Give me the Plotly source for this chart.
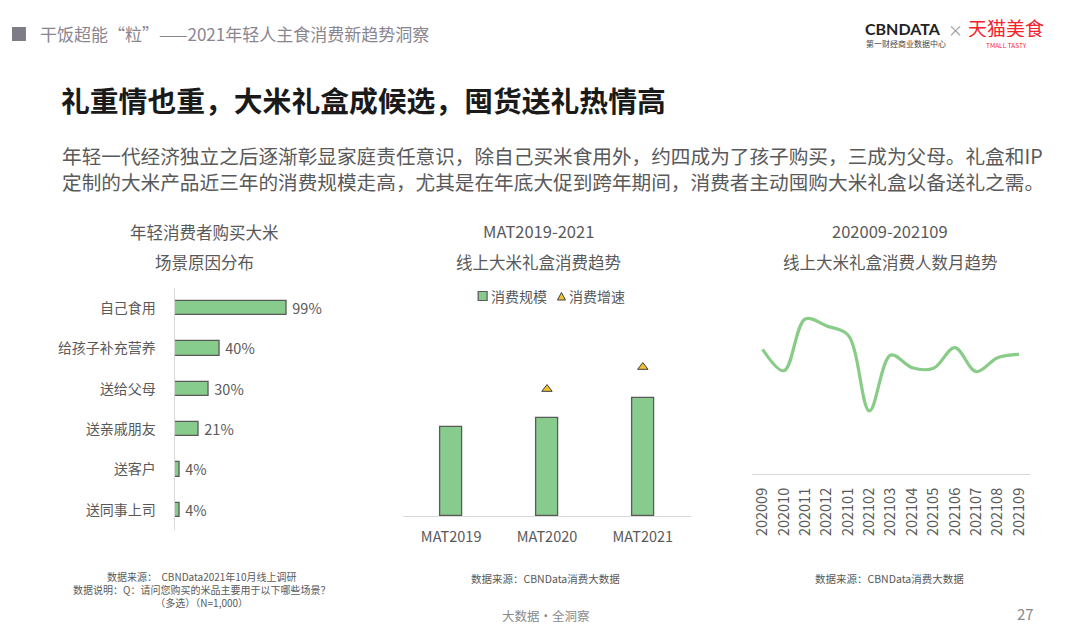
import plotly.graph_objects as go

W, H = 1080, 635


def px(x):
    return x / W


def py(y):
    return 1 - y / H


FONT = "Noto Sans CJK SC, Noto Sans, sans-serif"
GRAY = "#595959"
GREEN = "#87CB8D"
OUTLINE = "#5a5a5a"

# ---------------- data ----------------
scene_labels = ["自己食用", "给孩子补充营养", "送给父母", "送亲戚朋友", "送客户", "送同事上司"]
scene_values = [99, 40, 30, 21, 4, 4]

mat_labels = ["MAT2019", "MAT2020", "MAT2021"]
mat_scale = [100, 110, 133]          # relative consumption scale (index)
mat_growth = [None, 10.1, 20.4]      # growth rate (%)
mat_series = ["消费规模", "消费增速"]

month_labels = ["202009", "202010", "202011", "202012", "202101", "202102", "202103",
                "202104", "202105", "202106", "202107", "202108", "202109"]
month_users = [124.7, 103.3, 155.0, 148.0, 139.0, 63.0, 119.0,
               106.3, 105.7, 126.3, 102.3, 116.3, 119.7]

fig = go.Figure()

# left: horizontal bars
fig.add_trace(go.Bar(
    x=scene_values, y=scene_labels, orientation="h",
    xaxis="x", yaxis="y",
    marker=dict(color=GREEN, line=dict(color=OUTLINE, width=1.3)),
    width=0.35,
    text=[f" {v}%" for v in scene_values], textposition="outside",
    constraintext="none",
    textfont=dict(family=FONT, size=14.5, color=GRAY),
    cliponaxis=False, showlegend=False, hoverinfo="skip",
))

# middle: bars + growth markers
fig.add_trace(go.Bar(
    x=mat_labels, y=mat_scale, name=mat_series[0],
    xaxis="x2", yaxis="y2", width=0.23,
    marker=dict(color=GREEN, line=dict(color=OUTLINE, width=1.3)),
    showlegend=False, hoverinfo="skip",
))
fig.add_trace(go.Scatter(
    x=mat_labels, y=mat_growth, name=mat_series[1], mode="markers",
    xaxis="x2", yaxis="y3",
    marker=dict(symbol="triangle-up", size=9, color="#F2C12E",
                line=dict(color="#3f3f3f", width=1)),
    showlegend=False, hoverinfo="skip", cliponaxis=False,
))

# right: smooth line
fig.add_trace(go.Scatter(
    x=month_labels, y=month_users, mode="lines",
    xaxis="x3", yaxis="y4",
    line=dict(color="#88CC88", width=3.2, shape="spline", smoothing=1.0),
    showlegend=False, hoverinfo="skip", cliponaxis=False,
))

annotations = []


def txt(x, y, s, size, color=GRAY, xanchor="center", bold=False, family=FONT,
        height=None, align="center"):
    if bold:
        s = f"<b>{s}</b>"
    a = dict(
        x=px(x), y=py(y), xref="paper", yref="paper", text=s, showarrow=False,
        xanchor=xanchor, yanchor="middle", align=align,
        font=dict(family=family, size=size, color=color),
    )
    if height is not None:
        a["height"] = height
        a["borderpad"] = 0
    annotations.append(a)


# header
txt(36, 34, "干饭超能“粒”——2021年轻人主食消费新趋势洞察", 17, color="#8a8690", xanchor="left")
txt(864, 28, "CBNDATA", 16, color="#222222", xanchor="left", bold=True,
    family="Lato, Noto Sans, sans-serif", height=16)
txt(955, 29, "×", 15, color="#999999", height=16)
txt(967, 27, "天猫美食", 19, color="#F5222D", xanchor="left", height=20)
txt(865, 43.5, "第一财经商业数据中心", 8, color="#444444", xanchor="left", height=9)
txt(985, 44.5, "TMALL TASTY", 6.5, color="#F5222D", xanchor="left", height=7)

# title and paragraph
txt(57, 100, "礼重情也重，大米礼盒成候选，囤货送礼热情高", 28.8, color="#1a1a1a", xanchor="left", bold=True)
txt(58, 168,
    "年轻一代经济独立之后逐渐彰显家庭责任意识，除自己买米食用外，约四成为了孩子购买，三成为父母。礼盒和IP<br>"
    "定制的大米产品近三年的消费规模走高，尤其是在年底大促到跨年期间，消费者主动囤购大米礼盒以备送礼之需。",
    19.65, color=GRAY, xanchor="left", align="left")

# chart titles
txt(203, 232, "年轻消费者购买大米", 16.5)
txt(203, 262, "场景原因分布", 16.5)
txt(537, 231, "MAT2019-2021", 16.5)
txt(537, 262, "线上大米礼盒消费趋势", 16.5)
txt(890, 231, "202009-202109", 16.5)
txt(890, 262, "线上大米礼盒消费人数月趋势", 16.5)

# manual legend for middle chart
txt(488, 296, mat_series[0], 14, xanchor="left")
txt(566, 296, mat_series[1], 14, xanchor="left")

# footnotes
txt(200, 589,
    "数据来源：  CBNData2021年10月线上调研<br>"
    "数据说明：Q：请问您购买的米品主要用于以下哪些场景？<br>"
    "（多选）（N=1,000）", 10)
txt(545, 578, "数据来源：CBNData消费大数据", 10.5)
txt(889, 578, "数据来源：CBNData消费大数据", 10.5)
txt(545, 615, "大数据·全洞察", 12.5, color="#8a8a8a")
txt(1025, 613, "27", 15, color="#8a8a8a")

shapes = [
    dict(type="rect", xref="paper", yref="paper",
         x0=px(10), x1=px(24), y0=py(41), y1=py(27),
         fillcolor="#807c86", line=dict(width=0)),
    # legend symbols
    dict(type="rect", xref="paper", yref="paper",
         x0=px(477), x1=px(486), y0=py(300.5), y1=py(291.5),
         fillcolor=GREEN, line=dict(color=OUTLINE, width=1.2)),
    dict(type="path", xref="paper", yref="paper",
         path=f"M {px(556.5)} {py(300)} L {px(564.5)} {py(300)} L {px(560.5)} {py(292.5)} Z",
         fillcolor="#F2C12E", line=dict(color="#3f3f3f", width=1)),
]

fig.update_layout(
    width=W, height=H, autosize=False,
    margin=dict(l=0, r=0, t=0, b=0),
    paper_bgcolor="white", plot_bgcolor="white",
    font=dict(family=FONT, color=GRAY),
    bargap=0,
    showlegend=False,
    xaxis=dict(domain=[px(173), px(297.3)], range=[0, 110], visible=False,
               anchor="y", fixedrange=True),
    yaxis=dict(domain=[py(530), py(288)], anchor="x", autorange="reversed",
               showline=True, linecolor="#d9d9d9", linewidth=1, showgrid=False,
               ticks="", ticklabelstandoff=15,
               tickfont=dict(family=FONT, size=14, color=GRAY)),
    xaxis2=dict(domain=[px(402), px(690)], anchor="y2", showline=True,
                linecolor="#d9d9d9", linewidth=1, showgrid=False, ticks="",
                ticklabelstandoff=8,
                tickfont=dict(family=FONT, size=14.5, color=GRAY)),
    yaxis2=dict(domain=[py(516), py(316)], anchor="x2", range=[0, 224.7],
                visible=False),
    yaxis3=dict(overlaying="y2", anchor="x2", range=[-49.3, 44.3], visible=False),
    xaxis3=dict(domain=[px(751.3), px(1029.5)], anchor="y4", showline=True,
                linecolor="#d9d9d9", linewidth=1, showgrid=False, ticks="",
                tickangle=-90, ticklabelstandoff=7, type="category",
                range=[-0.5, 12.5],
                tickfont=dict(family=FONT, size=14.5, color=GRAY)),
    yaxis4=dict(domain=[py(474), py(290)], anchor="x3", range=[0, 184],
                visible=False),
    annotations=annotations,
    shapes=shapes,
)

fig.write_html(
    "out.html",
    post_script="document.body.style.margin='0';document.body.style.overflow='hidden';",
)
